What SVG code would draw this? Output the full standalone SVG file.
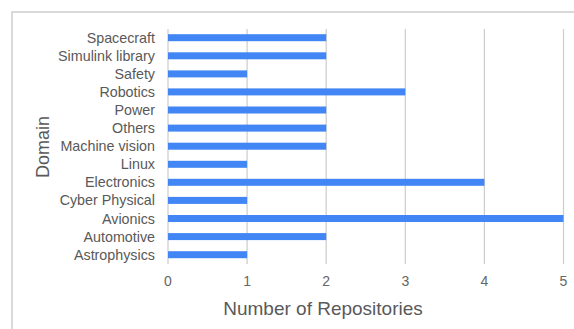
<svg xmlns="http://www.w3.org/2000/svg" width="574" height="329" viewBox="0 0 574 329">
  <style>
    .frame { fill: none; stroke: #d9d9d9; stroke-width: 2; }
    .grid { stroke: #cccccc; stroke-width: 1.2; }
    .bar { fill: #4285f4; }
    .cat { font-family: "Liberation Sans", Arial, sans-serif; font-size: 14.3px; fill: #595959; text-anchor: end; }
    .tick { font-family: "Liberation Sans", Arial, sans-serif; font-size: 14px; fill: #666666; text-anchor: middle; }
    .title { font-family: "Liberation Sans", Arial, sans-serif; font-size: 19px; fill: #595959; text-anchor: middle; }
    .ytitle { font-family: "Liberation Sans", Arial, sans-serif; font-size: 18px; fill: #595959; text-anchor: middle; }
  </style>
  <rect width="574" height="329" fill="#ffffff"/>
  <path class="frame" d="M12,329 V12 H574"/>

  <!-- vertical gridlines at 0..5 -->
  <g id="gridlines">
    <line class="grid" x1="168" y1="29" x2="168" y2="264"/>
    <line class="grid" x1="247.1" y1="29" x2="247.1" y2="264"/>
    <line class="grid" x1="326.2" y1="29" x2="326.2" y2="264"/>
    <line class="grid" x1="405.3" y1="29" x2="405.3" y2="264"/>
    <line class="grid" x1="484.4" y1="29" x2="484.4" y2="264"/>
    <line class="grid" x1="563.5" y1="29" x2="563.5" y2="264"/>
  </g>

  <!-- bars: one unit = 79.1px, origin at x=168 -->
  <g id="bar-spacecraft"><rect class="bar" x="168" y="34.2" width="158.2" height="7"/><text class="cat" x="155" y="42.7">Spacecraft</text></g>
  <g id="bar-simulink"><rect class="bar" x="168" y="52.3" width="158.2" height="7"/><text class="cat" x="155" y="60.8">Simulink library</text></g>
  <g id="bar-safety"><rect class="bar" x="168" y="70.4" width="79.1" height="7"/><text class="cat" x="155" y="78.9">Safety</text></g>
  <g id="bar-robotics"><rect class="bar" x="168" y="88.4" width="237.3" height="7"/><text class="cat" x="155" y="96.9">Robotics</text></g>
  <g id="bar-power"><rect class="bar" x="168" y="106.5" width="158.2" height="7"/><text class="cat" x="155" y="115">Power</text></g>
  <g id="bar-others"><rect class="bar" x="168" y="124.6" width="158.2" height="7"/><text class="cat" x="155" y="133.1">Others</text></g>
  <g id="bar-machine-vision"><rect class="bar" x="168" y="142.7" width="158.2" height="7"/><text class="cat" x="155" y="151.2">Machine vision</text></g>
  <g id="bar-linux"><rect class="bar" x="168" y="160.8" width="79.1" height="7"/><text class="cat" x="155" y="169.3">Linux</text></g>
  <g id="bar-electronics"><rect class="bar" x="168" y="178.8" width="316.4" height="7"/><text class="cat" x="155" y="187.3">Electronics</text></g>
  <g id="bar-cyber-physical"><rect class="bar" x="168" y="196.9" width="79.1" height="7"/><text class="cat" x="155" y="205.4">Cyber Physical</text></g>
  <g id="bar-avionics"><rect class="bar" x="168" y="215" width="395.5" height="7"/><text class="cat" x="155" y="223.5">Avionics</text></g>
  <g id="bar-automotive"><rect class="bar" x="168" y="233.1" width="158.2" height="7"/><text class="cat" x="155" y="241.6">Automotive</text></g>
  <g id="bar-astrophysics"><rect class="bar" x="168" y="251.2" width="79.1" height="7"/><text class="cat" x="155" y="259.7">Astrophysics</text></g>

  <!-- axis ticks and titles -->
  <g id="x-axis">
    <text class="tick" x="168" y="286">0</text>
    <text class="tick" x="247.1" y="286">1</text>
    <text class="tick" x="326.2" y="286">2</text>
    <text class="tick" x="405.3" y="286">3</text>
    <text class="tick" x="484.4" y="286">4</text>
    <text class="tick" x="563.5" y="286">5</text>
    <text class="title" x="323" y="315">Number of Repositories</text>
  </g>
  <g id="y-axis">
    <text class="ytitle" transform="translate(49,147) rotate(-90)">Domain</text>
  </g>
</svg>
